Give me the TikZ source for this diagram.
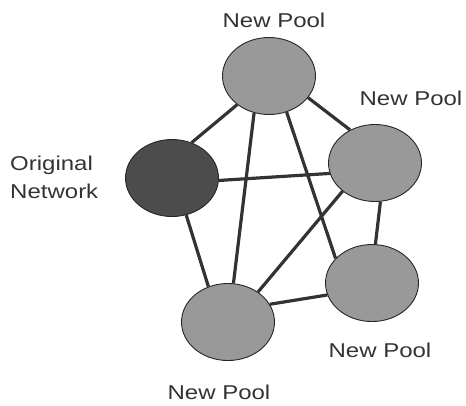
\documentclass[tikz,border=0pt]{standalone}
\usepackage{fontspec}
\setmainfont{Liberation Sans}
\usetikzlibrary{shapes.geometric}

\begin{document}
\begin{tikzpicture}[x=1pt, y=-1pt,
        pool/.style={ellipse, draw=black!85, line width=0.9pt, fill=black!40,
            minimum width=93pt, minimum height=77pt, inner sep=0pt},
        origin/.style={pool, fill=black!70},
        link/.style={draw=black!80, line width=3.2pt},
        lbl/.style={font=\fontsize{20}{28}\selectfont, text=black!80, xscale=1.2}]

        \useasboundingbox (0,0) rectangle (466,405);

        % Nodes
        \node[pool]   (pTop)   at (269,76)  {};
        \node[origin] (orig)   at (172,178) {};
        \node[pool]   (pRight) at (375,163) {};
        \node[pool]   (pLow)   at (372,283) {};
        \node[pool]   (pBot)   at (228,322) {};

        % Labels
        \node[lbl] (tTop)   at (274,20)  {New Pool};
        \node[lbl] (tRight) at (411,98)  {New Pool};
        \node[lbl] (tLow)   at (380,350) {New Pool};
        \node[lbl] (tBot)   at (219,392) {New Pool};
        \node[lbl, align=left, anchor=west] (tOrig) at (6,177) {Original\\Network};

        % Links
        \path[link]
            (pTop.222)   edge (orig.61)
            (pTop.248)   edge (pBot.82)
            (pTop.296)   edge (pLow.146)
            (pTop.331)   edge (pRight.127)
            (orig.357)   edge (pRight.193)
            (orig.291)   edge (pBot.119)
            (pRight.221) edge (pBot.45)
            (pRight.278) edge (pLow.85)
            (pBot.23)    edge (pLow.195);
    \end{tikzpicture}
\end{document}
